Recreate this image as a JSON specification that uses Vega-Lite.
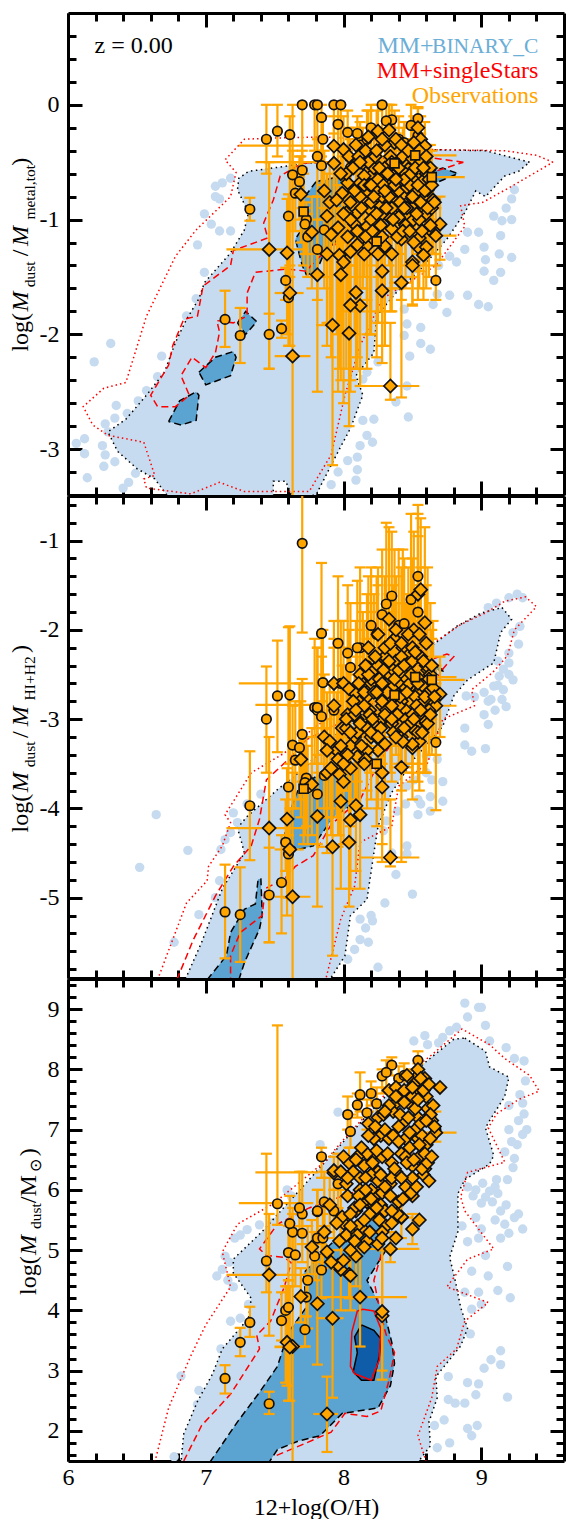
{"$schema":"https://vega.github.io/schema/vega-lite/v6.json","padding":{"left":9,"top":11,"right":0,"bottom":0},"spacing":1,"bounds":"flush",
"config":{"view":{"stroke":null},"axis":{"domainColor":"#000","domainWidth":3,"tickColor":"#000","tickWidth":3,"grid":false,"labelFont":"Liberation Serif","labelFontSize":24,"labelColor":"#000","labelPadding":7,"titleFont":"Liberation Serif","titleFontSize":24,"titleFontWeight":"normal","titleColor":"#000","zindex":1,"labelOverlap":false,"labelFlush":false,"title":null,"labelExpr":"''+datum.value"}},
"datasets":{
"bg1":[{"x":7.07,"y":-0.71},{"x":7.07,"y":-0.8},{"x":7.12,"y":-0.68},{"x":7.18,"y":-0.64},{"x":7.1,"y":-0.82},{"x":6.99,"y":-0.95},{"x":7.04,"y":-1.04},{"x":7.18,"y":-1.1},{"x":7.1,"y":-1.1},{"x":6.94,"y":-1.22},{"x":6.99,"y":-1.46},{"x":6.93,"y":-1.69},{"x":6.86,"y":-1.84},{"x":6.68,"y":-2.19},{"x":6.31,"y":-2.08},{"x":6.19,"y":-2.24},{"x":6.57,"y":-2.49},{"x":6.51,"y":-2.58},{"x":6.65,"y":-2.37},{"x":6.35,"y":-2.62},{"x":6.43,"y":-2.69},{"x":6.34,"y":-2.73},{"x":6.27,"y":-2.78},{"x":6.29,"y":-2.85},{"x":6.25,"y":-2.97},{"x":6.06,"y":-2.95},{"x":6.12,"y":-2.91},{"x":6.12,"y":-3.04},{"x":6.27,"y":-3.05},{"x":6.26,"y":-3.15},{"x":6.34,"y":-3.11},{"x":6.14,"y":-3.25},{"x":6.4,"y":-3.34},{"x":6.49,"y":-3.21},{"x":6.44,"y":-3.29},{"x":9.24,"y":-0.74},{"x":9.22,"y":-0.82},{"x":9.18,"y":-0.9},{"x":9.22,"y":-1},{"x":9.09,"y":-0.97},{"x":9.15,"y":-1.01},{"x":9.14,"y":-1.14},{"x":9.02,"y":-1.24},{"x":9.13,"y":-1.3},{"x":9.22,"y":-1.33},{"x":9.03,"y":-1.35},{"x":9.02,"y":-1.45},{"x":9.14,"y":-1.46},{"x":9.09,"y":-1.53},{"x":8.98,"y":-1.11},{"x":8.9,"y":-1.11},{"x":8.88,"y":-1.26},{"x":8.77,"y":-1.32},{"x":8.82,"y":-1.37},{"x":8.69,"y":-1.4},{"x":8.68,"y":-1.65},{"x":8.77,"y":-1.66},{"x":8.9,"y":-1.66},{"x":8.98,"y":-1.74},{"x":9.05,"y":-1.76},{"x":8.65,"y":-1.74},{"x":8.75,"y":-1.81},{"x":8.44,"y":-1.78},{"x":8.46,"y":-1.91},{"x":8.56,"y":-1.94},{"x":8.44,"y":-2.01},{"x":8.56,"y":-2.08},{"x":8.63,"y":-2.13},{"x":8.48,"y":-2.19},{"x":8.46,"y":-2.45},{"x":8.38,"y":-2.59},{"x":8.47,"y":-2.72},{"x":8.22,"y":-2.74},{"x":8.14,"y":-2.75},{"x":8.17,"y":-2.88},{"x":8.21,"y":-2.94},{"x":8.12,"y":-2.97},{"x":8.1,"y":-3.07},{"x":8.1,"y":-3.18},{"x":8.09,"y":-3.27},{"x":8.03,"y":-3.1},{"x":8.17,"y":-2.33},{"x":8.25,"y":-2.24},{"x":8.14,"y":-2.39},{"x":7.96,"y":-3.2},{"x":7.91,"y":-3.31}],
"bg2":[{"x":6.64,"y":-4.07},{"x":6.52,"y":-4.66},{"x":6.87,"y":-4.47},{"x":7.4,"y":-3.84},{"x":7.23,"y":-4.16},{"x":7.18,"y":-4.27},{"x":7.14,"y":-4.35},{"x":7.11,"y":-4.46},{"x":7.1,"y":-4.81},{"x":7.07,"y":-5},{"x":6.95,"y":-5.19},{"x":6.77,"y":-5.5},{"x":9.26,"y":-1.6},{"x":9.2,"y":-1.64},{"x":9.3,"y":-1.64},{"x":9.11,"y":-1.7},{"x":9.05,"y":-1.75},{"x":9.28,"y":-1.96},{"x":9.23,"y":-2.03},{"x":9.27,"y":-2.16},{"x":9.2,"y":-2.26},{"x":9.2,"y":-2.37},{"x":9.16,"y":-2.44},{"x":9.23,"y":-2.56},{"x":9.13,"y":-2.52},{"x":9.09,"y":-2.63},{"x":9.16,"y":-2.67},{"x":9.02,"y":-2.7},{"x":8.89,"y":-2.74},{"x":9.05,"y":-2.8},{"x":9.15,"y":-2.78},{"x":9.18,"y":-2.86},{"x":9.02,"y":-2.95},{"x":9.05,"y":-3.06},{"x":8.88,"y":-3.1},{"x":8.88,"y":-3.29},{"x":8.93,"y":-3.36},{"x":9.03,"y":-3.33},{"x":8.6,"y":-3.41},{"x":8.68,"y":-3.45},{"x":8.51,"y":-3.68},{"x":8.64,"y":-3.68},{"x":8.46,"y":-3.75},{"x":8.63,"y":-3.87},{"x":8.54,"y":-3.9},{"x":8.56,"y":-3.95},{"x":8.72,"y":-3.92},{"x":8.63,"y":-4.03},{"x":8.54,"y":-4.07},{"x":8.39,"y":-4.03},{"x":8.31,"y":-4.14},{"x":8.29,"y":-4.25},{"x":8.46,"y":-4.42},{"x":8.46,"y":-4.51},{"x":8.38,"y":-4.74},{"x":8.5,"y":-4.96},{"x":8.3,"y":-5.06},{"x":8.2,"y":-5.2},{"x":8.12,"y":-5.24},{"x":8.21,"y":-5.26},{"x":8.16,"y":-5.34},{"x":8.18,"y":-5.5},{"x":8.12,"y":-5.47},{"x":8.08,"y":-5.58},{"x":8.25,"y":-5.78},{"x":8.03,"y":-5.69},{"x":9.12,"y":-2.35},{"x":9.2,"y":-2.5},{"x":9.12,"y":-2.62},{"x":9.07,"y":-2.78},{"x":9.1,"y":-2.9},{"x":8.95,"y":-2.75},{"x":8.72,"y":-3.7},{"x":8.6,"y":-3.6},{"x":8.45,"y":-3.95},{"x":8.35,"y":-4.5},{"x":7.2,"y":-4.05},{"x":7.3,"y":-3.95}],
"bg3":[{"x":8.88,"y":9.1},{"x":8.98,"y":9.03},{"x":9,"y":9.03},{"x":8.9,"y":8.87},{"x":9.03,"y":8.73},{"x":8.77,"y":8.64},{"x":8.82,"y":8.7},{"x":8.72,"y":8.53},{"x":8.59,"y":8.56},{"x":8.51,"y":8.47},{"x":8.61,"y":8.41},{"x":8.69,"y":8.44},{"x":9.06,"y":8.47},{"x":9.18,"y":8.36},{"x":9.31,"y":8.14},{"x":9.24,"y":8.18},{"x":9.32,"y":7.81},{"x":9.28,"y":7.58},{"x":9.3,"y":7.44},{"x":9.31,"y":7.26},{"x":9.27,"y":7.15},{"x":9.3,"y":6.92},{"x":9.26,"y":6.75},{"x":9.17,"y":6.63},{"x":9.24,"y":6.52},{"x":9.23,"y":6.37},{"x":9.11,"y":6.17},{"x":9.19,"y":6.17},{"x":9.01,"y":6.11},{"x":8.96,"y":6},{"x":9.03,"y":5.88},{"x":9.12,"y":5.94},{"x":9.14,"y":5.65},{"x":9.24,"y":5.54},{"x":9.17,"y":5.43},{"x":9.2,"y":5.28},{"x":9.3,"y":5.35},{"x":8.96,"y":5.54},{"x":8.9,"y":5.14},{"x":9.03,"y":4.91},{"x":8.93,"y":4.65},{"x":9.05,"y":4.57},{"x":9.19,"y":4.73},{"x":9.12,"y":4.33},{"x":9.21,"y":4.21},{"x":8.93,"y":4.02},{"x":8.92,"y":3.61},{"x":9.02,"y":3.04},{"x":9.07,"y":3.18},{"x":9.14,"y":3.33},{"x":9.14,"y":3.1},{"x":8.9,"y":2.8},{"x":8.98,"y":2.78},{"x":8.96,"y":2.6},{"x":9.19,"y":2.56},{"x":8.76,"y":2.9},{"x":8.76,"y":2.52},{"x":8.81,"y":2.46},{"x":8.88,"y":2.46},{"x":8.73,"y":2.18},{"x":8.9,"y":2.04},{"x":8.97,"y":2.09},{"x":8.93,"y":1.92},{"x":8.77,"y":1.8},{"x":8.68,"y":1.72},{"x":8.66,"y":2.09},{"x":6.82,"y":2.91},{"x":6.95,"y":2.67},{"x":6.94,"y":2.44},{"x":7.11,"y":3.36},{"x":7.18,"y":3.82},{"x":7.25,"y":3.87},{"x":7.31,"y":4.1},{"x":7.2,"y":4.39},{"x":7.08,"y":4.57},{"x":7.12,"y":4.68},{"x":7.14,"y":4.9},{"x":7.21,"y":5.2},{"x":7.3,"y":5.34},{"x":7.39,"y":5.42},{"x":7.54,"y":5.54},{"x":7.59,"y":6},{"x":7.83,"y":6.75},{"x":7.96,"y":7.29},{"x":6.77,"y":1.57},{"x":9.33,"y":7.0},{"x":9.2,"y":7.4},{"x":9.2,"y":7.0},{"x":9.22,"y":6.8},{"x":9.1,"y":6.05},{"x":9.06,"y":5.98},{"x":9.0,"y":5.78},{"x":9.08,"y":5.8},{"x":9.18,"y":5.75},{"x":9.1,"y":5.5},{"x":9.0,"y":5.35},{"x":8.94,"y":5.9},{"x":8.9,"y":6.05},{"x":9.27,"y":5.6},{"x":9.14,"y":5.2},{"x":8.98,"y":5.2},{"x":8.86,"y":5.4},{"x":8.98,"y":4.3},{"x":9.0,"y":4.1},{"x":8.88,"y":4.3},{"x":7.48,"y":5.45},{"x":7.25,"y":5.25},{"x":7.17,"y":4.8},{"x":7.16,"y":4.5},{"x":7.62,"y":5.9}],
"L1":[{"x":9.35,"y":-0.5},{"x":9.03,"y":-0.4},{"x":8.62,"y":-0.39},{"x":8.07,"y":-0.48},{"x":7.73,"y":-0.51},{"x":7.49,"y":-0.55},{"x":7.31,"y":-0.58},{"x":7.24,"y":-0.64},{"x":7.23,"y":-0.74},{"x":7.31,"y":-0.94},{"x":7.28,"y":-1.09},{"x":7.18,"y":-1.29},{"x":6.99,"y":-1.55},{"x":6.95,"y":-1.69},{"x":6.86,"y":-1.87},{"x":6.78,"y":-2.07},{"x":6.7,"y":-2.33},{"x":6.57,"y":-2.53},{"x":6.42,"y":-2.74},{"x":6.29,"y":-2.85},{"x":6.36,"y":-3.02},{"x":6.5,"y":-3.17},{"x":6.63,"y":-3.26},{"x":6.73,"y":-3.42},{"x":7.49,"y":-3.42},{"x":7.49,"y":-3.28},{"x":7.58,"y":-3.28},{"x":7.63,"y":-3.42},{"x":7.8,"y":-3.4},{"x":7.91,"y":-3.14},{"x":7.97,"y":-3},{"x":8.05,"y":-2.82},{"x":8.14,"y":-2.53},{"x":8.09,"y":-2.36},{"x":8.22,"y":-2.16},{"x":8.24,"y":-1.84},{"x":8.38,"y":-1.64},{"x":8.56,"y":-1.43},{"x":8.75,"y":-1.17},{"x":8.88,"y":-0.94},{"x":8.96,"y":-0.75},{"x":9.03,"y":-0.8},{"x":9.17,"y":-0.62},{"x":9.27,"y":-0.58},{"x":9.35,"y":-0.5}],
"R1":[{"x":9.52,"y":-0.5},{"x":9.4,"y":-0.44},{"x":9.17,"y":-0.4},{"x":8.64,"y":-0.39},{"x":8.12,"y":-0.3},{"x":7.86,"y":-0.28},{"x":7.49,"y":-0.29},{"x":7.28,"y":-0.3},{"x":7.14,"y":-0.48},{"x":7.22,"y":-0.59},{"x":7.18,"y":-0.8},{"x":6.93,"y":-1.09},{"x":6.78,"y":-1.32},{"x":6.57,"y":-1.84},{"x":6.42,"y":-2.42},{"x":6.26,"y":-2.47},{"x":6.11,"y":-2.63},{"x":6.18,"y":-2.79},{"x":6.29,"y":-2.88},{"x":6.55,"y":-2.94},{"x":6.63,"y":-3.23},{"x":6.55,"y":-3.26},{"x":6.57,"y":-3.34},{"x":6.89,"y":-3.39},{"x":7.1,"y":-3.29},{"x":7.28,"y":-3.37},{"x":7.75,"y":-3.37},{"x":7.91,"y":-3.05},{"x":8.01,"y":-2.53},{"x":8.12,"y":-2.1},{"x":8.28,"y":-1.69},{"x":8.51,"y":-1.52},{"x":8.67,"y":-1.4},{"x":8.88,"y":-1.06},{"x":8.85,"y":-0.88},{"x":9.01,"y":-0.85},{"x":9.22,"y":-0.71},{"x":9.52,"y":-0.5}],
"D1":[{"x":8.87,"y":-0.5},{"x":8.56,"y":-0.45},{"x":8.12,"y":-0.48},{"x":7.7,"y":-0.51},{"x":7.54,"y":-0.62},{"x":7.49,"y":-0.83},{"x":7.42,"y":-1.03},{"x":7.45,"y":-1.16},{"x":7.2,"y":-1.27},{"x":7.18,"y":-1.4},{"x":6.98,"y":-1.58},{"x":6.94,"y":-1.84},{"x":6.84,"y":-1.87},{"x":6.76,"y":-2.1},{"x":6.73,"y":-2.27},{"x":6.6,"y":-2.53},{"x":6.65,"y":-2.63},{"x":6.78,"y":-2.63},{"x":6.88,"y":-2.53},{"x":6.82,"y":-2.36},{"x":6.9,"y":-2.2},{"x":7,"y":-2.29},{"x":7.07,"y":-2.16},{"x":7.1,"y":-1.98},{"x":7.08,"y":-1.88},{"x":7.2,"y":-1.9},{"x":7.3,"y":-1.84},{"x":7.3,"y":-1.64},{"x":7.36,"y":-1.46},{"x":7.59,"y":-1.43},{"x":7.73,"y":-1.45},{"x":7.8,"y":-1.35},{"x":7.99,"y":-1.17},{"x":8.12,"y":-0.95},{"x":8.38,"y":-0.71},{"x":8.64,"y":-0.59},{"x":8.87,"y":-0.5}],
"M1":[{"g":"a","x":6.73,"y":-2.76},{"g":"a","x":6.81,"y":-2.58},{"g":"a","x":6.93,"y":-2.5},{"g":"a","x":6.95,"y":-2.53},{"g":"a","x":6.93,"y":-2.75},{"g":"a","x":6.82,"y":-2.79},{"g":"a","x":6.73,"y":-2.76},{"g":"b","x":6.95,"y":-2.33},{"g":"b","x":7.07,"y":-2.2},{"g":"b","x":7.2,"y":-2.15},{"g":"b","x":7.22,"y":-2.2},{"g":"b","x":7.18,"y":-2.36},{"g":"b","x":7,"y":-2.44},{"g":"b","x":6.95,"y":-2.33},{"g":"c","x":7.23,"y":-1.9},{"g":"c","x":7.29,"y":-1.8},{"g":"c","x":7.37,"y":-1.89},{"g":"c","x":7.29,"y":-2},{"g":"c","x":7.23,"y":-1.9},{"g":"d","x":7.8,"y":-0.67},{"g":"d","x":7.7,"y":-0.83},{"g":"d","x":7.71,"y":-1.06},{"g":"d","x":7.65,"y":-1.17},{"g":"d","x":7.7,"y":-1.4},{"g":"d","x":7.73,"y":-1.48},{"g":"d","x":7.8,"y":-1.46},{"g":"d","x":7.86,"y":-1.29},{"g":"d","x":8.01,"y":-1.11},{"g":"d","x":8.12,"y":-0.94},{"g":"d","x":8.12,"y":-0.71},{"g":"d","x":7.99,"y":-0.62},{"g":"d","x":7.8,"y":-0.67},{"g":"e","x":8.62,"y":-0.59},{"g":"e","x":8.72,"y":-0.55},{"g":"e","x":8.83,"y":-0.6},{"g":"e","x":8.67,"y":-0.68},{"g":"e","x":8.62,"y":-0.65},{"g":"e","x":8.62,"y":-0.59}],
"L2":[{"x":9.15,"y":-1.75},{"x":9.22,"y":-1.88},{"x":9.14,"y":-2.03},{"x":9.09,"y":-2.37},{"x":8.9,"y":-2.56},{"x":8.8,"y":-2.74},{"x":8.72,"y":-3.08},{"x":8.51,"y":-3.45},{"x":8.35,"y":-3.82},{"x":8.25,"y":-4.2},{"x":8.22,"y":-4.5},{"x":8.17,"y":-5.02},{"x":8.05,"y":-5.2},{"x":8.01,"y":-5.65},{"x":7.9,"y":-5.92},{"x":6.85,"y":-5.92},{"x":6.97,"y":-5.5},{"x":7.12,"y":-4.9},{"x":7.28,"y":-4.5},{"x":7.26,"y":-4.38},{"x":7.23,"y":-4.22},{"x":7.3,"y":-4.09},{"x":7.52,"y":-3.79},{"x":7.73,"y":-3.53},{"x":7.99,"y":-3.08},{"x":8.22,"y":-2.63},{"x":8.5,"y":-2.33},{"x":8.64,"y":-2.18},{"x":8.82,"y":-1.96},{"x":9,"y":-1.81},{"x":9.15,"y":-1.75}],
"R2":[{"x":6.65,"y":-5.92},{"x":6.76,"y":-5.47},{"x":6.86,"y":-5.06},{"x":7.01,"y":-4.81},{"x":7.02,"y":-4.65},{"x":7.12,"y":-4.42},{"x":7.18,"y":-4.16},{"x":7.14,"y":-4.07},{"x":7.33,"y":-3.6},{"x":7.57,"y":-3.38},{"x":7.8,"y":-3.08},{"x":8.25,"y":-2.63},{"x":8.64,"y":-2.16},{"x":8.85,"y":-1.94},{"x":9.03,"y":-1.81},{"x":9.17,"y":-1.68},{"x":9.32,"y":-1.63},{"x":9.4,"y":-1.74},{"x":9.24,"y":-2},{"x":9.19,"y":-2.29},{"x":9.08,"y":-2.48},{"x":8.93,"y":-2.67},{"x":8.95,"y":-2.85},{"x":8.72,"y":-3},{"x":8.61,"y":-3.49},{"x":8.4,"y":-3.75},{"x":8.35,"y":-4.2},{"x":8.12,"y":-4.38},{"x":8.08,"y":-4.87},{"x":7.98,"y":-5.24},{"x":7.87,"y":-5.92}],
"D2":[{"x":6.79,"y":-5.92},{"x":6.91,"y":-5.47},{"x":7.07,"y":-4.98},{"x":7.2,"y":-4.65},{"x":7.33,"y":-4.42},{"x":7.39,"y":-4.12},{"x":7.44,"y":-3.68},{"x":7.6,"y":-3.45},{"x":7.73,"y":-3.23},{"x":8.12,"y":-2.93},{"x":8.38,"y":-2.63},{"x":8.64,"y":-2.33},{"x":8.75,"y":-2.27},{"x":8.8,"y":-2.3},{"x":8.73,"y":-2.42},{"x":8.27,"y":-3.45},{"x":8.12,"y":-3.9},{"x":7.91,"y":-4.18},{"x":7.78,"y":-4.53},{"x":7.65,"y":-4.65},{"x":7.57,"y":-4.79},{"x":7.43,"y":-4.9},{"x":7.41,"y":-5.2},{"x":7.25,"y":-5.39},{"x":7.18,"y":-5.65},{"x":7.18,"y":-5.92}],
"M2":[{"g":"a","x":7.01,"y":-5.92},{"g":"a","x":7.15,"y":-5.65},{"g":"a","x":7.18,"y":-5.39},{"g":"a","x":7.28,"y":-5.13},{"g":"a","x":7.36,"y":-5.07},{"g":"a","x":7.38,"y":-4.79},{"g":"a","x":7.4,"y":-4.79},{"g":"a","x":7.41,"y":-5.2},{"g":"a","x":7.39,"y":-5.35},{"g":"a","x":7.28,"y":-5.73},{"g":"a","x":7.24,"y":-5.92},{"g":"b","x":7.63,"y":-4.42},{"g":"b","x":7.57,"y":-4.35},{"g":"b","x":7.59,"y":-4.12},{"g":"b","x":7.67,"y":-3.79},{"g":"b","x":7.8,"y":-3.64},{"g":"b","x":8,"y":-3.6},{"g":"b","x":8.12,"y":-3.5},{"g":"b","x":8.12,"y":-3.9},{"g":"b","x":7.93,"y":-4.09},{"g":"b","x":7.78,"y":-4.42},{"g":"b","x":7.67,"y":-4.46},{"g":"b","x":7.63,"y":-4.42},{"g":"c","x":8.66,"y":-2.44},{"g":"c","x":8.7,"y":-2.39},{"g":"c","x":8.72,"y":-2.46},{"g":"c","x":8.66,"y":-2.44}],
"L3":[{"x":8.88,"y":8.52},{"x":9.03,"y":8.3},{"x":9.06,"y":8.04},{"x":9.2,"y":7.87},{"x":9.17,"y":7.55},{"x":9.06,"y":7.15},{"x":9.03,"y":7.03},{"x":9.09,"y":6.57},{"x":9.06,"y":6.43},{"x":8.88,"y":6.17},{"x":8.83,"y":5.94},{"x":8.83,"y":5.31},{"x":8.77,"y":4.88},{"x":8.81,"y":4.5},{"x":8.85,"y":4.05},{"x":8.9,"y":3.7},{"x":8.85,"y":3.41},{"x":8.67,"y":2.9},{"x":8.68,"y":2.55},{"x":8.62,"y":2.15},{"x":8.63,"y":1.75},{"x":8.54,"y":1.48},{"x":6.82,"y":1.48},{"x":6.84,"y":1.95},{"x":6.94,"y":2.49},{"x":7.05,"y":2.95},{"x":7.12,"y":3.36},{"x":7.31,"y":3.87},{"x":7.33,"y":4.2},{"x":7.2,"y":4.62},{"x":7.2,"y":4.85},{"x":7.41,"y":5.31},{"x":7.75,"y":6.17},{"x":7.98,"y":6.75},{"x":8.25,"y":7.44},{"x":8.6,"y":8.13},{"x":8.8,"y":8.5},{"x":8.88,"y":8.52}],
"R3":[{"x":6.63,"y":1.48},{"x":6.73,"y":2.38},{"x":6.89,"y":3.24},{"x":7,"y":3.76},{"x":7.18,"y":4.39},{"x":7.12,"y":4.97},{"x":7.23,"y":5.43},{"x":7.49,"y":5.77},{"x":7.86,"y":6.46},{"x":8.01,"y":6.86},{"x":8.38,"y":7.78},{"x":8.64,"y":8.24},{"x":8.86,"y":8.67},{"x":9.06,"y":8.41},{"x":9.17,"y":8.18},{"x":9.35,"y":7.9},{"x":9.42,"y":7.64},{"x":9.27,"y":7.5},{"x":9.11,"y":7.26},{"x":9.05,"y":7.03},{"x":9.17,"y":6.46},{"x":8.9,"y":6.29},{"x":8.85,"y":5.88},{"x":8.88,"y":5.65},{"x":9.09,"y":5.02},{"x":8.9,"y":4.85},{"x":8.75,"y":4.39},{"x":9.05,"y":4.13},{"x":8.88,"y":3.82},{"x":8.82,"y":3.36},{"x":8.68,"y":3.07},{"x":8.64,"y":2.55},{"x":8.54,"y":1.92},{"x":8.6,"y":1.48}],
"D3":[{"x":6.84,"y":1.5},{"x":6.97,"y":2.09},{"x":7.18,"y":2.61},{"x":7.39,"y":3.36},{"x":7.37,"y":3.59},{"x":7.47,"y":3.82},{"x":7.57,"y":4.39},{"x":7.62,"y":4.79},{"x":7.57,"y":4.88},{"x":7.44,"y":4.91},{"x":7.39,"y":5.02},{"x":7.52,"y":5.43},{"x":7.75,"y":5.7},{"x":8.12,"y":6},{"x":8.3,"y":5.5},{"x":8.27,"y":4.9},{"x":8.22,"y":4.5},{"x":8.27,"y":3.93},{"x":8.31,"y":3.59},{"x":8.37,"y":3.3},{"x":8.33,"y":2.84},{"x":8.27,"y":2.33},{"x":8.17,"y":2.24},{"x":8.01,"y":2.29},{"x":7.91,"y":1.98},{"x":7.73,"y":1.8},{"x":7.49,"y":1.57}],
"M3":[{"x":7.03,"y":1.48},{"x":7.23,"y":2.15},{"x":7.39,"y":2.64},{"x":7.52,"y":3.07},{"x":7.6,"y":3.64},{"x":7.73,"y":4.05},{"x":7.71,"y":4.62},{"x":7.85,"y":4.97},{"x":8,"y":5.31},{"x":8.27,"y":5.6},{"x":8.3,"y":4.97},{"x":8.17,"y":4.5},{"x":8.22,"y":4.28},{"x":8.3,"y":3.93},{"x":8.35,"y":3.47},{"x":8.37,"y":3.12},{"x":8.34,"y":2.75},{"x":8.25,"y":2.38},{"x":7.99,"y":2.29},{"x":7.83,"y":1.92},{"x":7.67,"y":1.83},{"x":7.52,"y":1.69},{"x":7.46,"y":1.48}],
"K3":[{"x":8.13,"y":3.76},{"x":8.08,"y":3.56},{"x":8.1,"y":3.3},{"x":8.07,"y":2.98},{"x":8.13,"y":2.84},{"x":8.22,"y":2.84},{"x":8.26,"y":3.24},{"x":8.27,"y":3.53},{"x":8.22,"y":3.67},{"x":8.13,"y":3.76}],
"S3":[{"x":8.1,"y":3.99},{"x":8.06,"y":3.64},{"x":8.05,"y":3.07},{"x":8.08,"y":2.95},{"x":8.2,"y":2.84},{"x":8.26,"y":3.18},{"x":8.27,"y":3.7},{"x":8.22,"y":3.99},{"x":8.14,"y":4.02},{"x":8.1,"y":3.99}],
"tx":[{"p":1,"k":"l","g":"k","x":6.76,"y":0.45,"s":"z = 0.00"},{"p":1,"k":"l","g":"b","x":8.654,"y":0.45,"s":"MM+"},{"p":1,"k":"c","g":"b","x":9.414,"y":0.45,"s":"BINARY_C"},{"p":1,"k":"l","g":"r","x":9.414,"y":0.235,"s":"MM+singleStars"},{"p":1,"k":"l","g":"o","x":9.414,"y":0.02,"s":"Observations"},
{"p":1,"k":"n","x":5.71,"y":-2.15,"s":"log("},{"p":1,"k":"i","x":5.71,"y":-1.8,"s":"M"},{"p":1,"k":"s","x":5.757,"y":-1.59,"s":"dust"},{"p":1,"k":"n","x":5.71,"y":-1.32,"s":"/"},{"p":1,"k":"i","x":5.71,"y":-1.23,"s":"M"},{"p":1,"k":"s","x":5.757,"y":-1,"s":"metal,tot"},{"p":1,"k":"n","x":5.71,"y":-0.53,"s":")"},
{"p":2,"k":"n","x":5.71,"y":-4.27,"s":"log("},{"p":2,"k":"i","x":5.71,"y":-3.82,"s":"M"},{"p":2,"k":"s","x":5.757,"y":-3.54,"s":"dust"},{"p":2,"k":"n","x":5.71,"y":-3.21,"s":"/"},{"p":2,"k":"i","x":5.71,"y":-3.08,"s":"M"},{"p":2,"k":"s","x":5.757,"y":-2.79,"s":"HI+H2"},{"p":2,"k":"n","x":5.71,"y":-2.26,"s":")"},
{"p":3,"k":"n","x":5.77,"y":4.255,"s":"log("},{"p":3,"k":"i","x":5.77,"y":4.92,"s":"M"},{"p":3,"k":"s","x":5.802,"y":5.35,"s":"dust"},{"p":3,"k":"n","x":5.77,"y":5.78,"s":"/M"},{"p":3,"k":"s","x":5.802,"y":6.3,"s":"⊙"},{"p":3,"k":"n","x":5.77,"y":6.56,"s":")"}],
"obs":[
{"t":"n","x":7.57,"xl":7.24,"xh":7.78,"a":-0.355,"b":-2.6,"c":5.78},{"t":"n","x":7.6,"xl":7.36,"xh":7.82,"a":-0.5,"b":-2.84,"c":6.29},{"t":"n","x":8.12,"xl":7.8,"xh":8.46,"c":4.22},
{"t":"c","x":7.14,"a":-1.87,"al":-2.11,"ah":-1.62,"b":-5.16,"bl":-5.68,"bh":-4.63,"c":2.87,"cl":2.62,"ch":3.09},
{"t":"c","x":7.25,"a":-2.01,"al":-2.25,"ah":-1.77,"b":-5.19,"bl":-5.72,"bh":-4.66,"c":3.47,"cl":3.24,"ch":3.71},
{"t":"c","x":7.32,"a":-0.91,"al":-1.01,"ah":-0.81,"b":-3.97,"bl":-4.58,"bh":-3.36,"c":3.8,"cl":3.56,"ch":4.06},
{"t":"c","x":7.44,"a":-0.3,"al":-0.6,"ah":0,"b":-3,"bl":-3.6,"bh":-2.41,"c":4.82,"cl":4.3,"ch":6.6},
{"t":"c","x":7.52,"a":-0.23,"al":-0.45,"ah":0,"b":-2.74,"bl":-3.37,"bh":-2.12,"c":5.77,"cl":5.42,"ch":8.73},
{"t":"c","x":7.46,"a":-2,"al":-2.3,"ah":-1.82,"b":-4.97,"bl":-5.5,"bh":-4.44,"c":2.45,"cl":2.28,"ch":2.65},
{"t":"c","x":7.55,"a":-1.95,"al":-2.03,"ah":-1.88,"b":-4.83,"bl":-5.4,"bh":-4.3,"c":3.83,"cl":3.5,"ch":4.3},
{"t":"c","x":7.58,"a":-1.53,"al":-1.7,"ah":-1.42,"b":-4.38,"bl":-4.7,"bh":-3.9,"c":4,"cl":2.8,"ch":4.4},
{"t":"c","x":7.6,"a":-1.68,"al":-2.1,"ah":-1.5,"b":-4.51,"bl":-5,"bh":-4.1,"c":4.05,"cl":2.5,"ch":4.5},
{"t":"c","x":7.6,"a":-0.97,"al":-1.5,"ah":-0.78,"b":-3.76,"bl":-4.3,"bh":-1.97,"c":4.96,"cl":4.5,"ch":5.4},
{"t":"c","x":7.63,"a":-0.61,"al":-1.1,"ah":-0.4,"b":-3.29,"bl":-4,"bh":-2.85,"c":5.3,"cl":4.9,"ch":5.7},
{"t":"c","x":7.7,"a":0,"al":-0.55,"ah":0,"b":-1.03,"bl":-2.03,"bh":-0.3,"c":5.6,"cl":5.1,"ch":6.3},
{"t":"c","x":7.7,"a":-0.57,"al":-0.9,"ah":-0.4,"b":-3.17,"bl":-3.7,"bh":-2.55,"c":5.28,"cl":4.8,"ch":5.6},
{"t":"c","x":7.68,"a":-0.67,"al":-1,"ah":-0.45,"b":-3.32,"bl":-3.9,"bh":-2.6,"c":5.7,"cl":5.3,"ch":6.3},
{"t":"c","x":7.65,"a":-0.77,"al":-1.1,"ah":-0.5,"b":-3.46,"bl":-4,"bh":-2.8,"c":4.92,"cl":4.4,"ch":5.4},
{"t":"c","x":7.73,"a":-1,"al":-1.3,"ah":-0.85,"b":-3.66,"bl":-4.2,"bh":-3.2,"c":4.22,"cl":3.9,"ch":4.5},
{"t":"c","x":7.72,"a":-1.04,"al":-1.3,"ah":-0.9,"b":-3.71,"bl":-4.3,"bh":-3.3,"c":3.68,"cl":3.4,"ch":3.9},
{"t":"c","x":7.74,"a":-1.15,"al":-1.5,"ah":-0.95,"b":-3.77,"bl":-4.4,"bh":-3.3,"c":4.5,"cl":3.7,"ch":5.4},
{"t":"c","x":7.81,"a":-1.26,"al":-1.7,"ah":-1,"b":-3.84,"bl":-4.4,"bh":-3.2,"c":5.64,"cl":5.2,"ch":6},
{"t":"c","x":7.86,"a":-1.09,"al":-1.5,"ah":-0.9,"b":-3.63,"bl":-4.1,"bh":-3.1,"c":5.8,"cl":5.4,"ch":6.3},
{"t":"c","x":7.61,"a":-0.26,"al":-1.5,"ah":-0.1,"b":-2.73,"bl":-3.5,"bh":-1.96,"c":5.44,"cl":5,"ch":5.9},
{"t":"c","x":7.79,"a":0,"al":-0.4,"ah":0,"b":-2.87,"bl":-3.5,"bh":-2.1,"c":4.9,"cl":4.5,"ch":5.3},
{"t":"c","x":7.81,"a":0,"al":-0.45,"ah":0,"b":-2.9,"bl":-3.5,"bh":-2.2,"c":5.2,"cl":4.8,"ch":5.6},
{"t":"c","x":7.93,"a":0,"al":-0.5,"ah":0,"b":-2.9,"bl":-3.4,"bh":-2.2,"c":5.65,"cl":5.2,"ch":6},
{"t":"c","x":7.98,"a":0,"al":-0.6,"ah":0,"b":-2.6,"bl":-3.2,"bh":-1.9,"c":5.55,"cl":5,"ch":6},
{"t":"c","x":7.84,"a":-0.11,"al":-0.45,"ah":0,"b":-2.04,"bl":-2.8,"bh":-1.25,"c":6.55,"cl":6.2,"ch":6.7},
{"t":"c","x":7.96,"a":-0.17,"al":-0.6,"ah":0,"b":-2.15,"bl":-2.9,"bh":-1.4,"c":6.1,"cl":5.7,"ch":6.6},
{"t":"c","x":8.03,"a":-0.24,"al":-0.7,"ah":-0.05,"b":-2.26,"bl":-3,"bh":-1.5,"c":7.25,"cl":7,"ch":7.55},
{"t":"c","x":7.85,"a":-0.3,"al":-0.7,"ah":-0.1,"b":-2.59,"bl":-3.2,"bh":-2,"c":5.2,"cl":4.7,"ch":5.6},
{"t":"c","x":7.81,"a":-0.45,"al":-0.8,"ah":-0.3,"b":-2.87,"bl":-3.4,"bh":-2.2,"c":5.65,"cl":5.3,"ch":6},
{"t":"c","x":7.84,"a":-0.53,"al":-1,"ah":-0.3,"b":-2.97,"bl":-3.5,"bh":-2.3,"c":4.67,"cl":4.2,"ch":5.1},
{"t":"c","x":8.67,"a":-1.53,"al":-1.7,"ah":-1.3,"b":-3.26,"bl":-4.02,"bh":-2.6,"c":7,"cl":6.8,"ch":7.3},
{"t":"c","x":8.54,"a":-0.12,"al":-0.3,"ah":-0.03,"b":-1.4,"bl":-2.1,"bh":-0.7,"c":8.15,"cl":8,"ch":8.3},
{"t":"c","x":8.28,"a":0,"al":-0.3,"ah":0,"b":-1.83,"bl":-2.5,"bh":-1.1,"c":7.89,"cl":7.6,"ch":8},
{"t":"c","x":8.35,"a":-0.13,"al":-0.45,"ah":0,"b":-1.62,"bl":-2.3,"bh":-0.9,"c":8.07,"cl":7.9,"ch":8.2},
{"t":"c","x":8.31,"a":-0.14,"al":-0.5,"ah":0,"b":-1.71,"bl":-2.4,"bh":-0.8,"c":7.95,"cl":7.7,"ch":8.15},
{"t":"c","x":8.49,"a":-0.18,"al":-0.5,"ah":0,"b":-1.66,"bl":-2.3,"bh":-0.7,"c":7.84,"cl":7.6,"ch":8},
{"t":"c","x":8.54,"a":-0.27,"al":-0.6,"ah":-0.1,"b":-1.8,"bl":-2.5,"bh":-0.95,"c":7.9,"cl":7.7,"ch":8.1},
{"t":"c","x":8.12,"a":-0.35,"al":-0.7,"ah":-0.15,"b":-2.2,"bl":-2.9,"bh":-1.3,"c":7.58,"cl":7.3,"ch":7.95},
{"t":"c","x":8.1,"a":-0.25,"al":-0.7,"ah":-0.1,"b":-2.2,"bl":-2.9,"bh":-1.45,"c":7.41,"cl":7.2,"ch":7.6},
{"t":"c","x":8.05,"a":-0.55,"al":-0.9,"ah":-0.3,"b":-2.42,"bl":-3,"bh":-1.7,"c":6.97,"cl":6.7,"ch":7.25},
{"t":"c","x":8.2,"a":-0.2,"al":-0.5,"ah":0,"b":-1.95,"bl":-2.6,"bh":-1.3,"c":7.6,"cl":7.4,"ch":7.8},
{"t":"c","x":8.24,"a":-0.25,"al":-0.55,"ah":-0.05,"b":-2.05,"bl":-2.7,"bh":-1.4,"c":7.43,"cl":7.2,"ch":7.7},
{"t":"c","x":8.17,"a":-0.3,"al":-0.6,"ah":-0.05,"b":-2.4,"bl":-3,"bh":-1.6,"c":7.28,"cl":7,"ch":7.5},
{"t":"c","x":8.4,"a":-0.3,"al":-0.6,"ah":-0.1,"b":-1.95,"bl":-2.6,"bh":-1.1,"c":7.85,"cl":7.6,"ch":8.05},
{"t":"c","x":8.44,"a":-0.33,"al":-0.6,"ah":-0.15,"b":-1.93,"bl":-2.6,"bh":-1.2,"c":7.9,"cl":7.7,"ch":8.1},
{"t":"d","x":7.46,"xl":7.15,"xh":7.75,"a":-1.26,"al":-2.3,"ah":-0.5,"b":-4.22,"bl":-5.5,"bh":-3.2,"c":4.59,"cl":3.58,"ch":5.6},
{"t":"d","x":7.59,"a":-1.29,"al":-2,"ah":-0.82,"b":-4.12,"bl":-5.2,"bh":-3.55,"c":3.47,"cl":2.75,"ch":4.4},
{"t":"d","x":7.63,"xl":7.5,"xh":7.76,"a":-2.19,"al":-3.5,"ah":0,"b":-4.99,"bl":-6,"bh":-3.6,"c":3.4,"cl":1.4,"ch":5.6},
{"t":"d","x":7.81,"a":-1.48,"al":-2.5,"ah":-0.8,"b":-4.09,"bl":-5.1,"bh":-3.1,"c":4.11,"cl":3.1,"ch":5.3},
{"t":"d","x":7.92,"xl":7.8,"xh":8,"a":-1.92,"al":-3.14,"ah":-1.3,"b":-4.43,"bl":-5.65,"bh":-3.5,"c":3.87,"cl":2.55,"ch":5},
{"t":"d","x":7.88,"xl":7.78,"xh":7.96,"a":-1.3,"al":-1.9,"ah":-0.9,"b":-3.6,"bl":-4.5,"bh":-3,"c":2.28,"cl":1.65,"ch":2.9},
{"t":"d","x":8.04,"a":-1.99,"al":-2.8,"ah":-1.4,"b":-4.38,"bl":-5.1,"bh":-3.6,"c":4.6,"cl":4.2,"ch":5},
{"t":"d","x":8.12,"a":-1.75,"al":-2.45,"ah":-1.2,"b":-4.07,"bl":-4.9,"bh":-3.4,"c":4.22,"cl":3.4,"ch":5},
{"t":"d","x":8.05,"a":-1.745,"al":-2.5,"ah":-1.2,"b":-4.13,"bl":-4.9,"bh":-3.3,"c":4.58,"cl":4,"ch":5},
{"t":"d","x":8.09,"a":-1.635,"al":-2.3,"ah":-1.1,"b":-3.97,"bl":-4.7,"bh":-3.2,"c":4.9,"cl":4.4,"ch":5.3},
{"t":"d","x":8.28,"a":-1.62,"al":-2.25,"ah":-1.1,"b":-3.76,"bl":-4.6,"bh":-3.1,"c":3.91,"cl":2.85,"ch":5},
{"t":"d","x":8.28,"a":-1.45,"al":-2.1,"ah":-1,"b":-3.6,"bl":-4.4,"bh":-3,"c":3.98,"cl":3,"ch":5},
{"t":"d","x":8.42,"xl":8.33,"xh":8.5,"a":-1.55,"al":-2.55,"ah":-1,"b":-3.54,"bl":-4.6,"bh":-2.9,"c":5.54,"cl":5.2,"ch":5.85},
{"t":"d","x":7.98,"a":-1.48,"al":-2.4,"ah":-0.9,"b":-3.92,"bl":-4.9,"bh":-3.1,"c":4.68,"cl":4,"ch":5.4},
{"t":"d","x":8.34,"xl":8.12,"xh":8.55,"a":-2.45,"al":-2.57,"ah":-1.9,"b":-4.55,"bl":-4.65,"bh":-3.9,"c":5.02,"cl":4.8,"ch":5.3},
{"t":"d","x":7.61,"xl":7.5,"xh":7.71,"a":-1.64,"al":-2.1,"ah":-1.4,"b":-4.46,"bl":-5,"bh":-4,"c":3.39,"cl":2.5,"ch":4.4},
{"t":"d","x":7.69,"a":-0.78,"al":-1.2,"ah":-0.45,"b":-3.45,"bl":-4.1,"bh":-2.8,"c":4.23,"cl":3.8,"ch":4.7},
{"t":"d","x":7.77,"a":-1.11,"al":-1.6,"ah":-0.8,"b":-3.73,"bl":-4.3,"bh":-3.1,"c":5.05,"cl":4.6,"ch":5.5},
{"t":"d","x":8.54,"a":-0.2,"al":-0.6,"ah":-0.02,"b":-1.6,"bl":-2.4,"bh":-0.6,"c":8,"cl":7.8,"ch":8.15},
{"t":"d","x":8.56,"a":-0.3,"al":-0.7,"ah":-0.1,"b":-1.55,"bl":-2.3,"bh":-0.75,"c":7.7,"cl":7.5,"ch":7.9},
{"t":"d","x":7.93,"a":-0.36,"al":-1.1,"ah":-0.1,"b":-2.6,"bl":-3.3,"bh":-1.9,"c":6.28,"cl":6,"ch":6.55},
{"t":"d","x":7.93,"a":-0.51,"al":-1.3,"ah":-0.25,"b":-2.85,"bl":-3.5,"bh":-2.1,"c":6.32},
{"t":"d","x":8,"a":-0.39,"al":-1.2,"ah":-0.1,"b":-2.6,"bl":-3.2,"bh":-1.9,"c":5.45},
{"t":"d","x":8.04,"a":-0.45,"al":-1.4,"ah":-0.2,"b":-2.66,"bl":-3.3,"bh":-2,"c":6.45,"cl":6.2,"ch":6.7},
{"t":"d","x":8.09,"a":-0.51,"al":-1.5,"ah":-0.2,"b":-2.72,"bl":-3.4,"bh":-1.9,"c":5.65},
{"t":"d","x":8.14,"a":-0.51,"al":-1.6,"ah":-0.2,"b":-2.6,"bl":-3.2,"bh":-1.8,"c":5.35},
{"t":"d","x":8.18,"a":-0.28,"al":-0.9,"ah":-0.05,"b":-2.2,"bl":-2.9,"bh":-1.4,"c":7.1,"cl":6.9,"ch":7.3},
{"t":"d","x":8.25,"a":-0.23,"al":-0.8,"ah":0,"b":-2.05,"bl":-2.7,"bh":-1.3,"c":7.2},
{"t":"d","x":8.33,"a":-0.22,"al":-0.7,"ah":0,"b":-1.88,"bl":-2.6,"bh":-0.85,"c":7.65},
{"t":"d","x":8.37,"a":-0.33,"al":-0.8,"ah":-0.05,"b":-2.1,"bl":-2.7,"bh":-1.1,"c":7.42},
{"t":"d","x":8.43,"a":-0.45,"al":-0.9,"ah":-0.2,"b":-2.2,"bl":-2.9,"bh":-1.1,"c":7.1},
{"t":"d","x":8.51,"a":-0.33,"al":-0.8,"ah":-0.1,"b":-2,"bl":-2.7,"bh":-0.9,"c":7.75},
{"t":"d","x":8.59,"a":-0.36,"al":-0.8,"ah":-0.15,"b":-1.92,"bl":-2.5,"bh":-0.85,"c":7.85},
{"t":"d","x":8.47,"a":-0.56,"al":-1,"ah":-0.3,"b":-2.4,"bl":-3,"bh":-1.3,"c":7.45},
{"t":"d","x":8.55,"a":-0.59,"al":-1.1,"ah":-0.3,"b":-2.55,"bl":-3.1,"bh":-1.5,"c":7.6},
{"t":"d","x":8.38,"a":-0.51,"al":-1,"ah":-0.25,"b":-2.35,"bl":-3,"bh":-1.4,"c":7.7},
{"t":"d","x":8.27,"a":-0.6,"al":-1.3,"ah":-0.3,"b":-2.65,"bl":-3.3,"bh":-1.8,"c":6.9},
{"t":"d","x":8.2,"a":-0.62,"al":-1.4,"ah":-0.3,"b":-2.6,"bl":-3.3,"bh":-1.7,"c":6.55},
{"t":"d","x":8.12,"a":-0.68,"al":-1.6,"ah":-0.3,"b":-2.8,"bl":-3.5,"bh":-2,"c":6.2},
{"t":"d","x":8.03,"a":-0.68,"al":-1.8,"ah":-0.4,"b":-2.95,"bl":-3.6,"bh":-2.2,"c":5.9},
{"t":"d","x":7.99,"a":-0.77,"al":-2,"ah":-0.45,"b":-3.1,"bl":-3.8,"bh":-2.4,"c":5.55},
{"t":"d","x":7.86,"a":-0.75,"al":-1.6,"ah":-0.4,"b":-3.2,"bl":-4,"bh":-2.5,"c":5.3,"cl":4.9,"ch":5.7},
{"t":"d","x":7.9,"a":-0.85,"al":-1.9,"ah":-0.5,"b":-3.25,"bl":-4,"bh":-2.6,"c":5.75,"cl":5.3,"ch":6.2},
{"t":"d","x":8.17,"a":-0.75,"al":-1.7,"ah":-0.4,"b":-2.75,"bl":-3.4,"bh":-2.1,"c":6.6},
{"t":"d","x":8.25,"a":-0.75,"al":-1.5,"ah":-0.4,"b":-2.55,"bl":-3.2,"bh":-1.8,"c":6.3},
{"t":"d","x":8.33,"a":-0.71,"al":-1.4,"ah":-0.4,"b":-2.5,"bl":-3.2,"bh":-1.6,"c":6.85},
{"t":"d","x":8.4,"a":-0.75,"al":-1.3,"ah":-0.5,"b":-2.6,"bl":-3.2,"bh":-1.7,"c":7.05},
{"t":"d","x":8.54,"a":-0.83,"al":-1.3,"ah":-0.55,"b":-2.7,"bl":-3.3,"bh":-1.8,"c":7.2},
{"t":"d","x":8.61,"a":-0.74,"al":-1.2,"ah":-0.45,"b":-2.45,"bl":-3,"bh":-1.3,"c":7.35},
{"t":"d","x":8.65,"a":-0.83,"al":-1.3,"ah":-0.55,"b":-2.65,"bl":-3.2,"bh":-1.9,"c":7.4},
{"t":"d","x":8.64,"a":-0.9,"al":-1.3,"ah":-0.6,"b":-2.85,"bl":-3.4,"bh":-2.1,"c":7.15},
{"t":"d","x":8.59,"a":-0.96,"al":-1.4,"ah":-0.7,"b":-3,"bl":-3.6,"bh":-2.3,"c":6.35},
{"t":"d","x":8.5,"a":-1.01,"al":-1.5,"ah":-0.7,"b":-3.1,"bl":-3.7,"bh":-2.4,"c":6.4},
{"t":"d","x":8.42,"a":-0.91,"al":-1.5,"ah":-0.6,"b":-2.8,"bl":-3.5,"bh":-2,"c":6.6},
{"t":"d","x":8.34,"a":-0.99,"al":-1.8,"ah":-0.6,"b":-2.95,"bl":-3.6,"bh":-2.2,"c":6.1},
{"t":"d","x":8.27,"a":-0.88,"al":-1.8,"ah":-0.5,"b":-2.75,"bl":-3.5,"bh":-2,"c":5.75},
{"t":"d","x":8.19,"a":-0.91,"al":-2,"ah":-0.5,"b":-2.9,"bl":-3.6,"bh":-2.2,"c":5.6},
{"t":"d","x":8.1,"a":-0.94,"al":-2.2,"ah":-0.6,"b":-3,"bl":-3.7,"bh":-2.3,"c":5.4},
{"t":"d","x":8.02,"a":-0.94,"al":-2.3,"ah":-0.6,"b":-3.1,"bl":-3.8,"bh":-2.4,"c":5.25},
{"t":"d","x":7.95,"a":-0.83,"al":-2,"ah":-0.5,"b":-3.35,"bl":-4.1,"bh":-2.7,"c":5.45},
{"t":"d","x":7.88,"a":-0.97,"al":-2.1,"ah":-0.6,"b":-3.35,"bl":-4.1,"bh":-2.7,"c":4.97},
{"t":"d","x":7.96,"a":-1.07,"al":-2.5,"ah":-0.7,"b":-3.45,"bl":-4.3,"bh":-2.8,"c":4.75},
{"t":"d","x":7.91,"a":-1.13,"al":-2.2,"ah":-0.8,"b":-3.55,"bl":-4.3,"bh":-2.9,"c":4.8},
{"t":"d","x":8.08,"a":-1.04,"al":-2,"ah":-0.7,"b":-3.2,"bl":-3.9,"bh":-2.5,"c":5.7},
{"t":"d","x":8.17,"a":-1.06,"al":-2,"ah":-0.7,"b":-3.1,"bl":-3.8,"bh":-2.4,"c":5.8},
{"t":"d","x":8.25,"a":-1.12,"al":-1.9,"ah":-0.8,"b":-3.35,"bl":-4,"bh":-2.6,"c":5.95},
{"t":"d","x":8.42,"a":-1.17,"al":-1.7,"ah":-0.9,"b":-3.2,"bl":-3.8,"bh":-2.6,"c":5.55},
{"t":"d","x":8.55,"a":-1.16,"al":-1.6,"ah":-0.9,"b":-3.25,"bl":-3.8,"bh":-2.6,"c":5.5},
{"t":"d","x":8.7,"a":-1.04,"al":-1.35,"ah":-0.8,"b":-2.72,"bl":-3.2,"bh":-2.3,"c":7.7},
{"t":"d","x":8.67,"xl":8.51,"xh":8.82,"a":-1.14,"al":-1.4,"ah":-0.9,"b":-2.85,"bl":-3.4,"bh":-2.4,"c":6.95},
{"t":"d","x":8.54,"a":-1.24,"al":-1.7,"ah":-1,"b":-3.15,"bl":-3.7,"bh":-2.6,"c":6.85},
{"t":"d","x":8.6,"a":-1.24,"al":-1.6,"ah":-1,"b":-3.05,"bl":-3.6,"bh":-2.5,"c":6.75},
{"t":"d","x":8.58,"a":-1.31,"al":-1.7,"ah":-1.05,"b":-3,"bl":-3.6,"bh":-2.4,"c":6.25},
{"t":"d","x":8.5,"a":-1.37,"al":-1.75,"ah":-1.1,"b":-3.32,"bl":-3.9,"bh":-2.7,"c":5.35,"cl":5.1,"ch":5.6},
{"t":"d","x":8.5,"a":-1.4,"al":-1.74,"ah":-1.1,"b":-3.28,"bl":-3.6,"bh":-2.7,"c":5.9},
{"t":"d","x":8.3,"a":-1.23,"al":-2.1,"ah":-0.9,"b":-3.28,"bl":-3.9,"bh":-2.6,"c":5.65},
{"t":"d","x":8.17,"a":-1.23,"al":-2.3,"ah":-0.9,"b":-3.35,"bl":-4,"bh":-2.7,"c":5.15},
{"t":"d","x":8.1,"a":-1.22,"al":-2.3,"ah":-0.9,"b":-3.42,"bl":-4.1,"bh":-2.7,"c":5.25},
{"t":"d","x":8.05,"a":-1.28,"al":-2.4,"ah":-0.9,"b":-3.55,"bl":-4.2,"bh":-2.8,"c":5},
{"t":"d","x":7.97,"a":-1.31,"al":-2.3,"ah":-0.9,"b":-3.62,"bl":-4.3,"bh":-2.9,"c":5.15},
{"t":"d","x":8,"a":-1.37,"al":-2.6,"ah":-1,"b":-3.7,"bl":-4.4,"bh":-3,"c":4.83},
{"t":"d","x":8.36,"a":-0.62,"al":-1.1,"ah":-0.3,"b":-2.45,"bl":-3.1,"bh":-1.5,"c":7.3},
{"t":"d","x":8.42,"a":-0.66,"al":-1.1,"ah":-0.4,"b":-2.3,"bl":-3,"bh":-1.3,"c":7.5},
{"t":"d","x":8.46,"a":-0.72,"al":-1.2,"ah":-0.45,"b":-2.55,"bl":-3.2,"bh":-1.6,"c":7.9},
{"t":"d","x":8.5,"a":-0.47,"al":-0.9,"ah":-0.2,"b":-2.2,"bl":-2.9,"bh":-1.2,"c":7.55},
{"t":"d","x":8.52,"a":-0.77,"al":-1.2,"ah":-0.5,"b":-2.75,"bl":-3.3,"bh":-1.9,"c":7},
{"t":"d","x":8.56,"a":-0.5,"al":-0.9,"ah":-0.25,"b":-2.3,"bl":-2.9,"bh":-1.3,"c":7.85},
{"t":"d","x":8.6,"a":-0.6,"al":-1,"ah":-0.35,"b":-2.4,"bl":-3,"bh":-1.5,"c":7.55},
{"t":"d","x":8.63,"a":-0.55,"al":-0.9,"ah":-0.35,"b":-2.5,"bl":-3,"bh":-1.7,"c":7.25},
{"t":"d","x":8.45,"a":-0.87,"al":-1.4,"ah":-0.6,"b":-2.9,"bl":-3.5,"bh":-2.1,"c":6.85},
{"t":"d","x":8.38,"a":-0.85,"al":-1.5,"ah":-0.5,"b":-2.7,"bl":-3.4,"bh":-1.9,"c":6.3},
{"t":"d","x":8.3,"a":-0.55,"al":-1.2,"ah":-0.25,"b":-2.3,"bl":-3,"bh":-1.4,"c":7},
{"t":"d","x":8.28,"a":-0.8,"al":-1.6,"ah":-0.45,"b":-2.85,"bl":-3.5,"bh":-2,"c":6.55},
{"t":"d","x":8.22,"a":-0.55,"al":-1.3,"ah":-0.2,"b":-2.45,"bl":-3.1,"bh":-1.6,"c":6.85},
{"t":"d","x":8.15,"a":-0.62,"al":-1.5,"ah":-0.3,"b":-2.7,"bl":-3.4,"bh":-1.9,"c":6.4},
{"t":"d","x":8.35,"a":-1.08,"al":-1.8,"ah":-0.7,"b":-3.05,"bl":-3.7,"bh":-2.3,"c":6.45},
{"t":"d","x":8.45,"a":-1.05,"al":-1.6,"ah":-0.75,"b":-3,"bl":-3.6,"bh":-2.3,"c":6.05},
{"t":"d","x":8.55,"a":-1,"al":-1.45,"ah":-0.7,"b":-2.95,"bl":-3.5,"bh":-2.2,"c":6.55},
{"t":"d","x":8.62,"a":-1.08,"al":-1.5,"ah":-0.8,"b":-2.9,"bl":-3.4,"bh":-2.3,"c":6.15},
{"t":"d","x":8.25,"a":-0.65,"al":-1.3,"ah":-0.3,"b":-2.4,"bl":-3.1,"bh":-1.5,"c":6.15},
{"t":"d","x":8.2,"a":-0.85,"al":-1.8,"ah":-0.45,"b":-2.55,"bl":-3.2,"bh":-1.8,"c":6.25},
{"t":"d","x":8.12,"a":-0.8,"al":-1.8,"ah":-0.4,"b":-2.5,"bl":-3.2,"bh":-1.7,"c":6},
{"t":"d","x":8.28,"a":-0.95,"al":-1.9,"ah":-0.6,"b":-3,"bl":-3.6,"bh":-2.3,"c":5.95},
{"t":"d","x":8.35,"a":-0.9,"al":-1.6,"ah":-0.55,"b":-2.65,"bl":-3.3,"bh":-1.8,"c":6.2},
{"t":"d","x":8.45,"a":-0.6,"al":-1.1,"ah":-0.3,"b":-2.65,"bl":-3.2,"bh":-1.7,"c":6.55},
{"t":"d","x":8.5,"a":-0.9,"al":-1.4,"ah":-0.6,"b":-2.95,"bl":-3.5,"bh":-2.2,"c":6.2},
{"t":"d","x":8.4,"a":-0.98,"al":-1.6,"ah":-0.65,"b":-2.85,"bl":-3.5,"bh":-2.1,"c":5.8},
{"t":"d","x":8.48,"a":-0.7,"al":-1.2,"ah":-0.4,"b":-2.6,"bl":-3.2,"bh":-1.7,"c":6.95},
{"t":"d","x":8.57,"a":-0.67,"al":-1.1,"ah":-0.4,"b":-2.62,"bl":-3.1,"bh":-1.8,"c":6.9},
{"t":"d","x":8.2,"a":-1,"al":-2,"ah":-0.6,"b":-3.2,"bl":-3.9,"bh":-2.5,"c":6},
{"t":"d","x":8.02,"a":-0.6,"b":-3,"c":6.1},{"t":"d","x":8.05,"a":-1,"b":-3.3,"c":5.6},{"t":"d","x":8.07,"a":-0.55,"b":-2.8,"c":6.3},{"t":"d","x":8.08,"a":-0.75,"b":-2.95,"c":5.15},{"t":"d","x":8.1,"a":-1.1,"b":-3.15,"c":6.55},{"t":"d","x":8.11,"a":-0.45,"b":-2.6,"c":5.9},{"t":"d","x":8.13,"a":-0.9,"b":-3.3,"c":6.7},{"t":"d","x":8.15,"a":-0.7,"b":-2.85,"c":5.5},{"t":"d","x":8.16,"a":-1.15,"b":-3.45,"c":6.2},{"t":"d","x":8.18,"a":-0.5,"b":-2.5,"c":6.9},{"t":"d","x":8.19,"a":-0.7,"b":-2.95,"c":5.3},{"t":"d","x":8.21,"a":-1.1,"b":-3,"c":6.45},{"t":"d","x":8.22,"a":-0.8,"b":-2.7,"c":5.75},{"t":"d","x":8.23,"a":-0.45,"b":-2.3,"c":7.05},{"t":"d","x":8.24,"a":-0.95,"b":-3.2,"c":6.65},{"t":"d","x":8.26,"a":-0.55,"b":-2.55,"c":5.5},{"t":"d","x":8.27,"a":-1.05,"b":-3.1,"c":6.25},{"t":"d","x":8.29,"a":-0.7,"b":-2.45,"c":7.25},{"t":"d","x":8.3,"a":-0.35,"b":-2.2,"c":6.05},{"t":"d","x":8.31,"a":-0.9,"b":-2.9,"c":5.4},{"t":"d","x":8.32,"a":-0.6,"b":-2.7,"c":6.6},{"t":"d","x":8.33,"a":-0.8,"b":-2.35,"c":7.4},{"t":"d","x":8.34,"a":-0.45,"b":-2.15,"c":5.9},{"t":"d","x":8.36,"a":-1,"b":-3.15,"c":6.9},{"t":"d","x":8.37,"a":-0.7,"b":-2.55,"c":6.35},{"t":"d","x":8.38,"a":-0.3,"b":-2,"c":7.55},{"t":"d","x":8.39,"a":-1.15,"b":-2.95,"c":5.6},{"t":"d","x":8.4,"a":-0.55,"b":-2.45,"c":6.8},{"t":"d","x":8.41,"a":-0.85,"b":-2.75,"c":7.25},{"t":"d","x":8.42,"a":-0.35,"b":-2.15,"c":6.2},{"t":"d","x":8.43,"a":-1.1,"b":-3.25,"c":5.85},{"t":"d","x":8.44,"a":-0.65,"b":-2.4,"c":7.65},{"t":"d","x":8.46,"a":-0.9,"b":-2.7,"c":6.45},{"t":"d","x":8.47,"a":-0.4,"b":-2.05,"c":7.2},{"t":"d","x":8.48,"a":-1.1,"b":-3.05,"c":6.7},{"t":"d","x":8.49,"a":-0.6,"b":-2.5,"c":5.95},{"t":"d","x":8.5,"a":-0.8,"b":-2.35,"c":7.7},{"t":"d","x":8.51,"a":-1.2,"b":-3,"c":6.5},{"t":"d","x":8.52,"a":-0.55,"b":-2.25,"c":7.35},{"t":"d","x":8.53,"a":-0.95,"b":-2.85,"c":6.05},{"t":"d","x":8.54,"a":-0.7,"b":-2.6,"c":7.5},{"t":"d","x":8.55,"a":-0.4,"b":-2.05,"c":6.75},{"t":"d","x":8.56,"a":-0.85,"b":-2.9,"c":7.1},{"t":"d","x":8.57,"a":-1.1,"b":-3.15,"c":6.35},{"t":"d","x":8.58,"a":-0.55,"b":-2.35,"c":7.65},{"t":"d","x":8.59,"a":-0.75,"b":-2.75,"c":6.6},{"t":"d","x":8.6,"a":-0.45,"b":-2.15,"c":7.15},{"t":"d","x":8.61,"a":-0.9,"b":-3.05,"c":6.45},{"t":"d","x":8.62,"a":-0.65,"b":-2.55,"c":7.75},{"t":"d","x":8.63,"a":-1.05,"b":-2.95,"c":6.85},{"t":"d","x":8.64,"a":-0.7,"b":-2.4,"c":6.55},{"t":"d","x":8.66,"a":-0.85,"b":-2.75,"c":7.05},{"t":"d","x":8.05,"a":-0.85,"b":-3.15,"c":5.4},{"t":"d","x":8.12,"a":-0.5,"b":-3.05,"c":5.75},{"t":"d","x":8.28,"a":-1.15,"b":-2.8,"c":5.3},{"t":"d","x":8.35,"a":-0.5,"b":-2.85,"c":5.65},{"t":"d","x":8.44,"a":-0.9,"b":-3.1,"c":7.45},{"t":"d","x":8.38,"a":-0.65,"b":-3.2,"c":5.2},{"t":"d","x":8.3,"a":-0.75,"b":-2.95,"c":7.3},{"t":"d","x":8.2,"a":-0.7,"b":-3.15,"c":5.85},{"t":"d","x":8.15,"a":-1.3,"b":-3.5,"c":5.05},{"t":"d","x":8.25,"a":-1.3,"b":-3.2,"c":5.1},{"t":"d","x":8.35,"a":-1.3,"b":-3,"c":5.45},{"t":"d","x":7.98,"a":-0.6,"b":-3.3,"c":6.3},{"t":"d","x":8,"a":-0.95,"b":-3.5,"c":6.55},{"t":"d","x":8.03,"a":-1.15,"b":-3.4,"c":6.2},{"t":"d","x":8.09,"a":-0.35,"b":-2.9,"c":6.5},{"t":"d","x":8.16,"a":-0.4,"b":-2.4,"c":6},{"t":"d","x":8.24,"a":-0.4,"b":-2.7,"c":5.7},{"t":"d","x":8.28,"a":-0.3,"b":-2.6,"c":5.2},
{"t":"s","x":7.71,"a":-0.93,"al":-1.4,"ah":-0.6,"b":-3.78,"bl":-4.4,"bh":-3.2},
{"t":"s","x":8.24,"a":-1.19,"al":-2.2,"ah":-0.8,"b":-3.5,"bl":-4.2,"bh":-2.8},
{"t":"s","x":8.37,"a":-0.51,"al":-1,"ah":-0.2,"b":-2.73,"bl":-3.3,"bh":-1.9},
{"t":"s","x":8.52,"xl":8.3,"xh":8.82,"a":-0.44,"al":-0.9,"ah":-0.2,"b":-2.53,"bl":-3,"bh":-1.7},
{"t":"s","x":8.64,"xl":8.45,"xh":8.88,"a":-0.63,"al":-1,"ah":-0.4,"b":-2.56,"bl":-3,"bh":-2}]
},
"vconcat":[
{"width":496,"height":482,"resolve":{"axis":{"x":"independent","y":"independent"}},
"encoding":{"x":{"field":"x","type":"quantitative","scale":{"domain":[6,9.6],"nice":false},"axis":null},"y":{"field":"y","type":"quantitative","scale":{"domain":[-3.4,0.8],"nice":false},"axis":null}},
"layer":[
{"data":{"name":"bg1"},"mark":{"type":"circle","size":88,"opacity":1,"color":"#c6dbef","clip":true},"encoding":{"x":{"field":"x","type":"quantitative","scale":{"domain":[6,9.6],"nice":false},"axis":{"orient":"bottom","values":[6,7,8,9],"tickSize":-14,"labels":false}},"y":{"field":"y","type":"quantitative","scale":{"domain":[-3.4,0.8],"nice":false},"axis":{"orient":"left","values":[-3,-2,-1,0],"tickSize":-14,"labelPadding":23}}}},
{"data":{"name":"L1"},"mark":{"type":"line","clip":true,"fill":"#c6dbef","stroke":"#000","strokeWidth":1.5,"strokeDash":[1.5,3.5]},"encoding":{"order":{"value":null},"x":{"field":"x","type":"quantitative","scale":{"domain":[6,9.6],"nice":false},"axis":{"orient":"top","values":[6,7,8,9],"tickSize":-14,"labels":false}},"y":{"field":"y","type":"quantitative","scale":{"domain":[-3.4,0.8],"nice":false},"axis":{"orient":"right","values":[-3,-2,-1,0],"tickSize":-14,"labels":false}}}},
{"data":{"name":"M1"},"mark":{"type":"line","clip":true,"fill":"#5ba3d0","stroke":"#000","strokeWidth":1.5,"strokeDash":[7,4]},"encoding":{"order":{"value":null},"detail":{"field":"g"},"x":{"field":"x","type":"quantitative","scale":{"domain":[6,9.6],"nice":false},"axis":{"orient":"bottom","values":[6.2,6.4,6.6,6.8,7.2,7.4,7.6,7.8,8.2,8.4,8.6,8.8,9.2,9.4],"tickSize":-8,"labels":false,"domain":false}},"y":{"field":"y","type":"quantitative","scale":{"domain":[-3.4,0.8],"nice":false},"axis":{"orient":"left","values":[-3.2,-2.8,-2.6,-2.4,-2.2,-1.8,-1.6,-1.4,-1.2,-0.8,-0.6,-0.4,-0.2,0.2,0.4,0.6],"tickSize":-8,"labels":false,"domain":false}}}},
{"data":{"name":"R1"},"mark":{"type":"line","clip":true,"stroke":"#f00","strokeWidth":1.5,"strokeDash":[1.5,3]},"encoding":{"order":{"value":null},"x":{"field":"x","type":"quantitative","scale":{"domain":[6,9.6],"nice":false},"axis":{"orient":"top","values":[6.2,6.4,6.6,6.8,7.2,7.4,7.6,7.8,8.2,8.4,8.6,8.8,9.2,9.4],"tickSize":-8,"labels":false,"domain":false}},"y":{"field":"y","type":"quantitative","scale":{"domain":[-3.4,0.8],"nice":false},"axis":{"orient":"right","values":[-3.2,-2.8,-2.6,-2.4,-2.2,-1.8,-1.6,-1.4,-1.2,-0.8,-0.6,-0.4,-0.2,0.2,0.4,0.6],"tickSize":-8,"labels":false,"domain":false}}}},
{"data":{"name":"D1"},"mark":{"type":"line","clip":true,"stroke":"#f00","strokeWidth":1.5,"strokeDash":[7,4]},"encoding":{"order":{"value":null}}},
{"data":{"name":"obs"},"transform":[{"filter":"datum.xl!=null&&datum.a!=null"}],"mark":{"type":"rule","color":"#ffa500","strokeWidth":2.2,"clip":true},"encoding":{"x":{"field":"xl","type":"quantitative","scale":{"domain":[6,9.6],"nice":false},"axis":null},"x2":{"field":"xh"},"y":{"field":"a","type":"quantitative","scale":{"domain":[-3.4,0.8],"nice":false},"axis":null}}},
{"data":{"name":"obs"},"transform":[{"filter":"datum.al!=null"}],"mark":{"type":"rule","color":"#ffa500","strokeWidth":2.2,"clip":true},"encoding":{"y":{"field":"al","type":"quantitative","scale":{"domain":[-3.4,0.8],"nice":false},"axis":null},"y2":{"field":"ah"}}},
{"data":{"name":"obs"},"transform":[{"filter":"datum.al!=null"}],"mark":{"type":"tick","orient":"horizontal","color":"#ffa500","size":11,"thickness":2.2,"opacity":1,"clip":true},"encoding":{"y":{"field":"al","type":"quantitative","scale":{"domain":[-3.4,0.8],"nice":false},"axis":null}}},
{"data":{"name":"obs"},"transform":[{"filter":"datum.ah!=null"}],"mark":{"type":"tick","orient":"horizontal","color":"#ffa500","size":11,"thickness":2.2,"opacity":1,"clip":true},"encoding":{"y":{"field":"ah","type":"quantitative","scale":{"domain":[-3.4,0.8],"nice":false},"axis":null}}},
{"data":{"name":"obs"},"transform":[{"filter":"datum.t=='c'"}],"mark":{"type":"point","shape":"circle","size":90,"filled":true,"fill":"#ffa500","fillOpacity":1,"stroke":"#111","strokeOpacity":1,"strokeWidth":1.7,"clip":true},"encoding":{"y":{"field":"a","type":"quantitative","scale":{"domain":[-3.4,0.8],"nice":false},"axis":null}}},
{"data":{"name":"obs"},"transform":[{"filter":"datum.t=='d'"}],"mark":{"type":"point","shape":"diamond","size":170,"filled":true,"fill":"#ffa500","fillOpacity":1,"stroke":"#111","strokeOpacity":1,"strokeWidth":1.7,"clip":true},"encoding":{"y":{"field":"a","type":"quantitative","scale":{"domain":[-3.4,0.8],"nice":false},"axis":null}}},
{"data":{"name":"obs"},"transform":[{"filter":"datum.t=='s'"}],"mark":{"type":"point","shape":"square","size":80,"filled":true,"fill":"#ffa500","fillOpacity":1,"stroke":"#111","strokeOpacity":1,"strokeWidth":1.7,"clip":true},"encoding":{"y":{"field":"a","type":"quantitative","scale":{"domain":[-3.4,0.8],"nice":false},"axis":null}}},
{"data":{"name":"tx"},"transform":[{"filter":"datum.p==1&&datum.k=='l'"}],"mark":{"type":"text","font":"Liberation Serif","fontSize":24,"align":"right","baseline":"alphabetic"},"encoding":{"text":{"field":"s"},"color":{"field":"g","type":"nominal","scale":{"domain":["k","b","r","o"],"range":["#000","#6baed6","#f00","#ffa500"]},"legend":null}}},
{"data":{"name":"tx"},"transform":[{"filter":"datum.p==1&&datum.k=='c'"}],"mark":{"type":"text","font":"Liberation Serif","fontSize":21.5,"align":"right","baseline":"alphabetic","color":"#6baed6"},"encoding":{"text":{"field":"s"}}},
{"data":{"name":"tx"},"transform":[{"filter":"datum.p==1&&datum.k=='n'"}],"mark":{"type":"text","font":"Liberation Serif","fontSize":24,"angle":270,"align":"left","baseline":"alphabetic","color":"#000"},"encoding":{"text":{"field":"s"}}},
{"data":{"name":"tx"},"transform":[{"filter":"datum.p==1&&datum.k=='i'"}],"mark":{"type":"text","font":"Liberation Serif","fontSize":24,"fontStyle":"italic","angle":270,"align":"left","baseline":"alphabetic","color":"#000"},"encoding":{"text":{"field":"s"}}},
{"data":{"name":"tx"},"transform":[{"filter":"datum.p==1&&datum.k=='s'"}],"mark":{"type":"text","font":"Liberation Serif","fontSize":15.5,"angle":270,"align":"left","baseline":"alphabetic","color":"#000"},"encoding":{"text":{"field":"s"}}}
]},
{"width":496,"height":482,"resolve":{"axis":{"x":"independent","y":"independent"}},
"encoding":{"x":{"field":"x","type":"quantitative","scale":{"domain":[6,9.6],"nice":false},"axis":null},"y":{"field":"y","type":"quantitative","scale":{"domain":[-5.9,-0.5],"nice":false},"axis":null}},
"layer":[
{"data":{"name":"bg2"},"mark":{"type":"circle","size":88,"opacity":1,"color":"#c6dbef","clip":true},"encoding":{"x":{"field":"x","type":"quantitative","scale":{"domain":[6,9.6],"nice":false},"axis":{"orient":"bottom","values":[6,7,8,9],"tickSize":-14,"labels":false}},"y":{"field":"y","type":"quantitative","scale":{"domain":[-5.9,-0.5],"nice":false},"axis":{"orient":"left","values":[-5,-4,-3,-2,-1],"tickSize":-14,"labelPadding":23}}}},
{"data":{"name":"L2"},"mark":{"type":"line","clip":true,"fill":"#c6dbef","stroke":"#000","strokeWidth":1.5,"strokeDash":[1.5,3.5]},"encoding":{"order":{"value":null},"x":{"field":"x","type":"quantitative","scale":{"domain":[6,9.6],"nice":false},"axis":{"orient":"top","values":[6,7,8,9],"tickSize":-14,"labels":false}},"y":{"field":"y","type":"quantitative","scale":{"domain":[-5.9,-0.5],"nice":false},"axis":{"orient":"right","values":[-5,-4,-3,-2,-1],"tickSize":-14,"labels":false}}}},
{"data":{"name":"M2"},"mark":{"type":"line","clip":true,"fill":"#5ba3d0","stroke":"#000","strokeWidth":1.5,"strokeDash":[7,4]},"encoding":{"order":{"value":null},"detail":{"field":"g"},"x":{"field":"x","type":"quantitative","scale":{"domain":[6,9.6],"nice":false},"axis":{"orient":"bottom","values":[6.2,6.4,6.6,6.8,7.2,7.4,7.6,7.8,8.2,8.4,8.6,8.8,9.2,9.4],"tickSize":-8,"labels":false,"domain":false}},"y":{"field":"y","type":"quantitative","scale":{"domain":[-5.9,-0.5],"nice":false},"axis":{"orient":"left","values":[-5.8,-5.6,-5.4,-5.2,-4.8,-4.6,-4.4,-4.2,-3.8,-3.6,-3.4,-3.2,-2.8,-2.6,-2.4,-2.2,-1.8,-1.6,-1.4,-1.2,-0.8,-0.6],"tickSize":-8,"labels":false,"domain":false}}}},
{"data":{"name":"R2"},"mark":{"type":"line","clip":true,"stroke":"#f00","strokeWidth":1.5,"strokeDash":[1.5,3]},"encoding":{"order":{"value":null},"x":{"field":"x","type":"quantitative","scale":{"domain":[6,9.6],"nice":false},"axis":{"orient":"top","values":[6.2,6.4,6.6,6.8,7.2,7.4,7.6,7.8,8.2,8.4,8.6,8.8,9.2,9.4],"tickSize":-8,"labels":false,"domain":false}},"y":{"field":"y","type":"quantitative","scale":{"domain":[-5.9,-0.5],"nice":false},"axis":{"orient":"right","values":[-5.8,-5.6,-5.4,-5.2,-4.8,-4.6,-4.4,-4.2,-3.8,-3.6,-3.4,-3.2,-2.8,-2.6,-2.4,-2.2,-1.8,-1.6,-1.4,-1.2,-0.8,-0.6],"tickSize":-8,"labels":false,"domain":false}}}},
{"data":{"name":"D2"},"mark":{"type":"line","clip":true,"stroke":"#f00","strokeWidth":1.5,"strokeDash":[7,4]},"encoding":{"order":{"value":null}}},
{"data":{"name":"obs"},"transform":[{"filter":"datum.xl!=null&&datum.b!=null"}],"mark":{"type":"rule","color":"#ffa500","strokeWidth":2.2,"clip":true},"encoding":{"x":{"field":"xl","type":"quantitative","scale":{"domain":[6,9.6],"nice":false},"axis":null},"x2":{"field":"xh"},"y":{"field":"b","type":"quantitative","scale":{"domain":[-5.9,-0.5],"nice":false},"axis":null}}},
{"data":{"name":"obs"},"transform":[{"filter":"datum.bl!=null"}],"mark":{"type":"rule","color":"#ffa500","strokeWidth":2.2,"clip":true},"encoding":{"y":{"field":"bl","type":"quantitative","scale":{"domain":[-5.9,-0.5],"nice":false},"axis":null},"y2":{"field":"bh"}}},
{"data":{"name":"obs"},"transform":[{"filter":"datum.bl!=null"}],"mark":{"type":"tick","orient":"horizontal","color":"#ffa500","size":11,"thickness":2.2,"opacity":1,"clip":true},"encoding":{"y":{"field":"bl","type":"quantitative","scale":{"domain":[-5.9,-0.5],"nice":false},"axis":null}}},
{"data":{"name":"obs"},"transform":[{"filter":"datum.bh!=null"}],"mark":{"type":"tick","orient":"horizontal","color":"#ffa500","size":11,"thickness":2.2,"opacity":1,"clip":true},"encoding":{"y":{"field":"bh","type":"quantitative","scale":{"domain":[-5.9,-0.5],"nice":false},"axis":null}}},
{"data":{"name":"obs"},"transform":[{"filter":"datum.t=='c'"}],"mark":{"type":"point","shape":"circle","size":90,"filled":true,"fill":"#ffa500","fillOpacity":1,"stroke":"#111","strokeOpacity":1,"strokeWidth":1.7,"clip":true},"encoding":{"y":{"field":"b","type":"quantitative","scale":{"domain":[-5.9,-0.5],"nice":false},"axis":null}}},
{"data":{"name":"obs"},"transform":[{"filter":"datum.t=='d'"}],"mark":{"type":"point","shape":"diamond","size":170,"filled":true,"fill":"#ffa500","fillOpacity":1,"stroke":"#111","strokeOpacity":1,"strokeWidth":1.7,"clip":true},"encoding":{"y":{"field":"b","type":"quantitative","scale":{"domain":[-5.9,-0.5],"nice":false},"axis":null}}},
{"data":{"name":"obs"},"transform":[{"filter":"datum.t=='s'"}],"mark":{"type":"point","shape":"square","size":80,"filled":true,"fill":"#ffa500","fillOpacity":1,"stroke":"#111","strokeOpacity":1,"strokeWidth":1.7,"clip":true},"encoding":{"y":{"field":"b","type":"quantitative","scale":{"domain":[-5.9,-0.5],"nice":false},"axis":null}}},
{"data":{"name":"tx"},"transform":[{"filter":"datum.p==2&&datum.k=='n'"}],"mark":{"type":"text","font":"Liberation Serif","fontSize":24,"angle":270,"align":"left","baseline":"alphabetic","color":"#000"},"encoding":{"text":{"field":"s"}}},
{"data":{"name":"tx"},"transform":[{"filter":"datum.p==2&&datum.k=='i'"}],"mark":{"type":"text","font":"Liberation Serif","fontSize":24,"fontStyle":"italic","angle":270,"align":"left","baseline":"alphabetic","color":"#000"},"encoding":{"text":{"field":"s"}}},
{"data":{"name":"tx"},"transform":[{"filter":"datum.p==2&&datum.k=='s'"}],"mark":{"type":"text","font":"Liberation Serif","fontSize":15.5,"angle":270,"align":"left","baseline":"alphabetic","color":"#000"},"encoding":{"text":{"field":"s"}}}
]},
{"width":496,"height":482,"resolve":{"axis":{"x":"independent","y":"independent"}},
"encoding":{"x":{"field":"x","type":"quantitative","scale":{"domain":[6,9.6],"nice":false},"axis":null},"y":{"field":"y","type":"quantitative","scale":{"domain":[1.5,9.5],"nice":false},"axis":null}},
"layer":[
{"data":{"name":"bg3"},"mark":{"type":"circle","size":88,"opacity":1,"color":"#c6dbef","clip":true},"encoding":{"x":{"field":"x","type":"quantitative","scale":{"domain":[6,9.6],"nice":false},"axis":{"orient":"bottom","values":[6,7,8,9],"tickSize":-14,"labelPadding":18,"title":"12+log(O/H)","titlePadding":6}},"y":{"field":"y","type":"quantitative","scale":{"domain":[1.5,9.5],"nice":false},"axis":{"orient":"left","values":[2,3,4,5,6,7,8,9],"tickSize":-14,"labelPadding":23}}}},
{"data":{"name":"L3"},"mark":{"type":"line","clip":true,"fill":"#c6dbef","stroke":"#000","strokeWidth":1.5,"strokeDash":[1.5,3.5]},"encoding":{"order":{"value":null},"x":{"field":"x","type":"quantitative","scale":{"domain":[6,9.6],"nice":false},"axis":{"orient":"top","values":[6,7,8,9],"tickSize":-14,"labels":false}},"y":{"field":"y","type":"quantitative","scale":{"domain":[1.5,9.5],"nice":false},"axis":{"orient":"right","values":[2,3,4,5,6,7,8,9],"tickSize":-14,"labels":false}}}},
{"data":{"name":"M3"},"mark":{"type":"line","clip":true,"fill":"#5ba3d0","stroke":"#000","strokeWidth":1.5,"strokeDash":[7,4]},"encoding":{"order":{"value":null},"x":{"field":"x","type":"quantitative","scale":{"domain":[6,9.6],"nice":false},"axis":{"orient":"bottom","values":[6.2,6.4,6.6,6.8,7.2,7.4,7.6,7.8,8.2,8.4,8.6,8.8,9.2,9.4],"tickSize":-8,"labels":false,"domain":false}},"y":{"field":"y","type":"quantitative","scale":{"domain":[1.5,9.5],"nice":false},"axis":{"orient":"left","values":[1.6,1.8,2.2,2.4,2.6,2.8,3.2,3.4,3.6,3.8,4.2,4.4,4.6,4.8,5.2,5.4,5.6,5.8,6.2,6.4,6.6,6.8,7.2,7.4,7.6,7.8,8.2,8.4,8.6,8.8,9.2,9.4],"tickSize":-8,"labels":false,"domain":false}}}},
{"data":{"name":"K3"},"mark":{"type":"line","clip":true,"fill":"#0f5ca8","stroke":"#000","strokeWidth":1.5},"encoding":{"order":{"value":null}}},
{"data":{"name":"R3"},"mark":{"type":"line","clip":true,"stroke":"#f00","strokeWidth":1.5,"strokeDash":[1.5,3]},"encoding":{"order":{"value":null},"x":{"field":"x","type":"quantitative","scale":{"domain":[6,9.6],"nice":false},"axis":{"orient":"top","values":[6.2,6.4,6.6,6.8,7.2,7.4,7.6,7.8,8.2,8.4,8.6,8.8,9.2,9.4],"tickSize":-8,"labels":false,"domain":false}},"y":{"field":"y","type":"quantitative","scale":{"domain":[1.5,9.5],"nice":false},"axis":{"orient":"right","values":[1.6,1.8,2.2,2.4,2.6,2.8,3.2,3.4,3.6,3.8,4.2,4.4,4.6,4.8,5.2,5.4,5.6,5.8,6.2,6.4,6.6,6.8,7.2,7.4,7.6,7.8,8.2,8.4,8.6,8.8,9.2,9.4],"tickSize":-8,"labels":false,"domain":false}}}},
{"data":{"name":"D3"},"mark":{"type":"line","clip":true,"stroke":"#f00","strokeWidth":1.5,"strokeDash":[7,4]},"encoding":{"order":{"value":null}}},
{"data":{"name":"S3"},"mark":{"type":"line","clip":true,"stroke":"#f00","strokeWidth":1.5},"encoding":{"order":{"value":null}}},
{"data":{"name":"obs"},"transform":[{"filter":"datum.xl!=null&&datum.c!=null"}],"mark":{"type":"rule","color":"#ffa500","strokeWidth":2.2,"clip":true},"encoding":{"x":{"field":"xl","type":"quantitative","scale":{"domain":[6,9.6],"nice":false},"axis":null},"x2":{"field":"xh"},"y":{"field":"c","type":"quantitative","scale":{"domain":[1.5,9.5],"nice":false},"axis":null}}},
{"data":{"name":"obs"},"transform":[{"filter":"datum.cl!=null"}],"mark":{"type":"rule","color":"#ffa500","strokeWidth":2.2,"clip":true},"encoding":{"y":{"field":"cl","type":"quantitative","scale":{"domain":[1.5,9.5],"nice":false},"axis":null},"y2":{"field":"ch"}}},
{"data":{"name":"obs"},"transform":[{"filter":"datum.cl!=null"}],"mark":{"type":"tick","orient":"horizontal","color":"#ffa500","size":11,"thickness":2.2,"opacity":1,"clip":true},"encoding":{"y":{"field":"cl","type":"quantitative","scale":{"domain":[1.5,9.5],"nice":false},"axis":null}}},
{"data":{"name":"obs"},"transform":[{"filter":"datum.ch!=null"}],"mark":{"type":"tick","orient":"horizontal","color":"#ffa500","size":11,"thickness":2.2,"opacity":1,"clip":true},"encoding":{"y":{"field":"ch","type":"quantitative","scale":{"domain":[1.5,9.5],"nice":false},"axis":null}}},
{"data":{"name":"obs"},"transform":[{"filter":"datum.t=='c'"}],"mark":{"type":"point","shape":"circle","size":90,"filled":true,"fill":"#ffa500","fillOpacity":1,"stroke":"#111","strokeOpacity":1,"strokeWidth":1.7,"clip":true},"encoding":{"y":{"field":"c","type":"quantitative","scale":{"domain":[1.5,9.5],"nice":false},"axis":null}}},
{"data":{"name":"obs"},"transform":[{"filter":"datum.t=='d'"}],"mark":{"type":"point","shape":"diamond","size":170,"filled":true,"fill":"#ffa500","fillOpacity":1,"stroke":"#111","strokeOpacity":1,"strokeWidth":1.7,"clip":true},"encoding":{"y":{"field":"c","type":"quantitative","scale":{"domain":[1.5,9.5],"nice":false},"axis":null}}},
{"data":{"name":"tx"},"transform":[{"filter":"datum.p==3&&datum.k=='n'"}],"mark":{"type":"text","font":"Liberation Serif","fontSize":24,"angle":270,"align":"left","baseline":"alphabetic","color":"#000"},"encoding":{"text":{"field":"s"}}},
{"data":{"name":"tx"},"transform":[{"filter":"datum.p==3&&datum.k=='i'"}],"mark":{"type":"text","font":"Liberation Serif","fontSize":24,"fontStyle":"italic","angle":270,"align":"left","baseline":"alphabetic","color":"#000"},"encoding":{"text":{"field":"s"}}},
{"data":{"name":"tx"},"transform":[{"filter":"datum.p==3&&datum.k=='s'"}],"mark":{"type":"text","font":"Liberation Serif","fontSize":15.5,"angle":270,"align":"left","baseline":"alphabetic","color":"#000"},"encoding":{"text":{"field":"s"}}}
]}
]}
